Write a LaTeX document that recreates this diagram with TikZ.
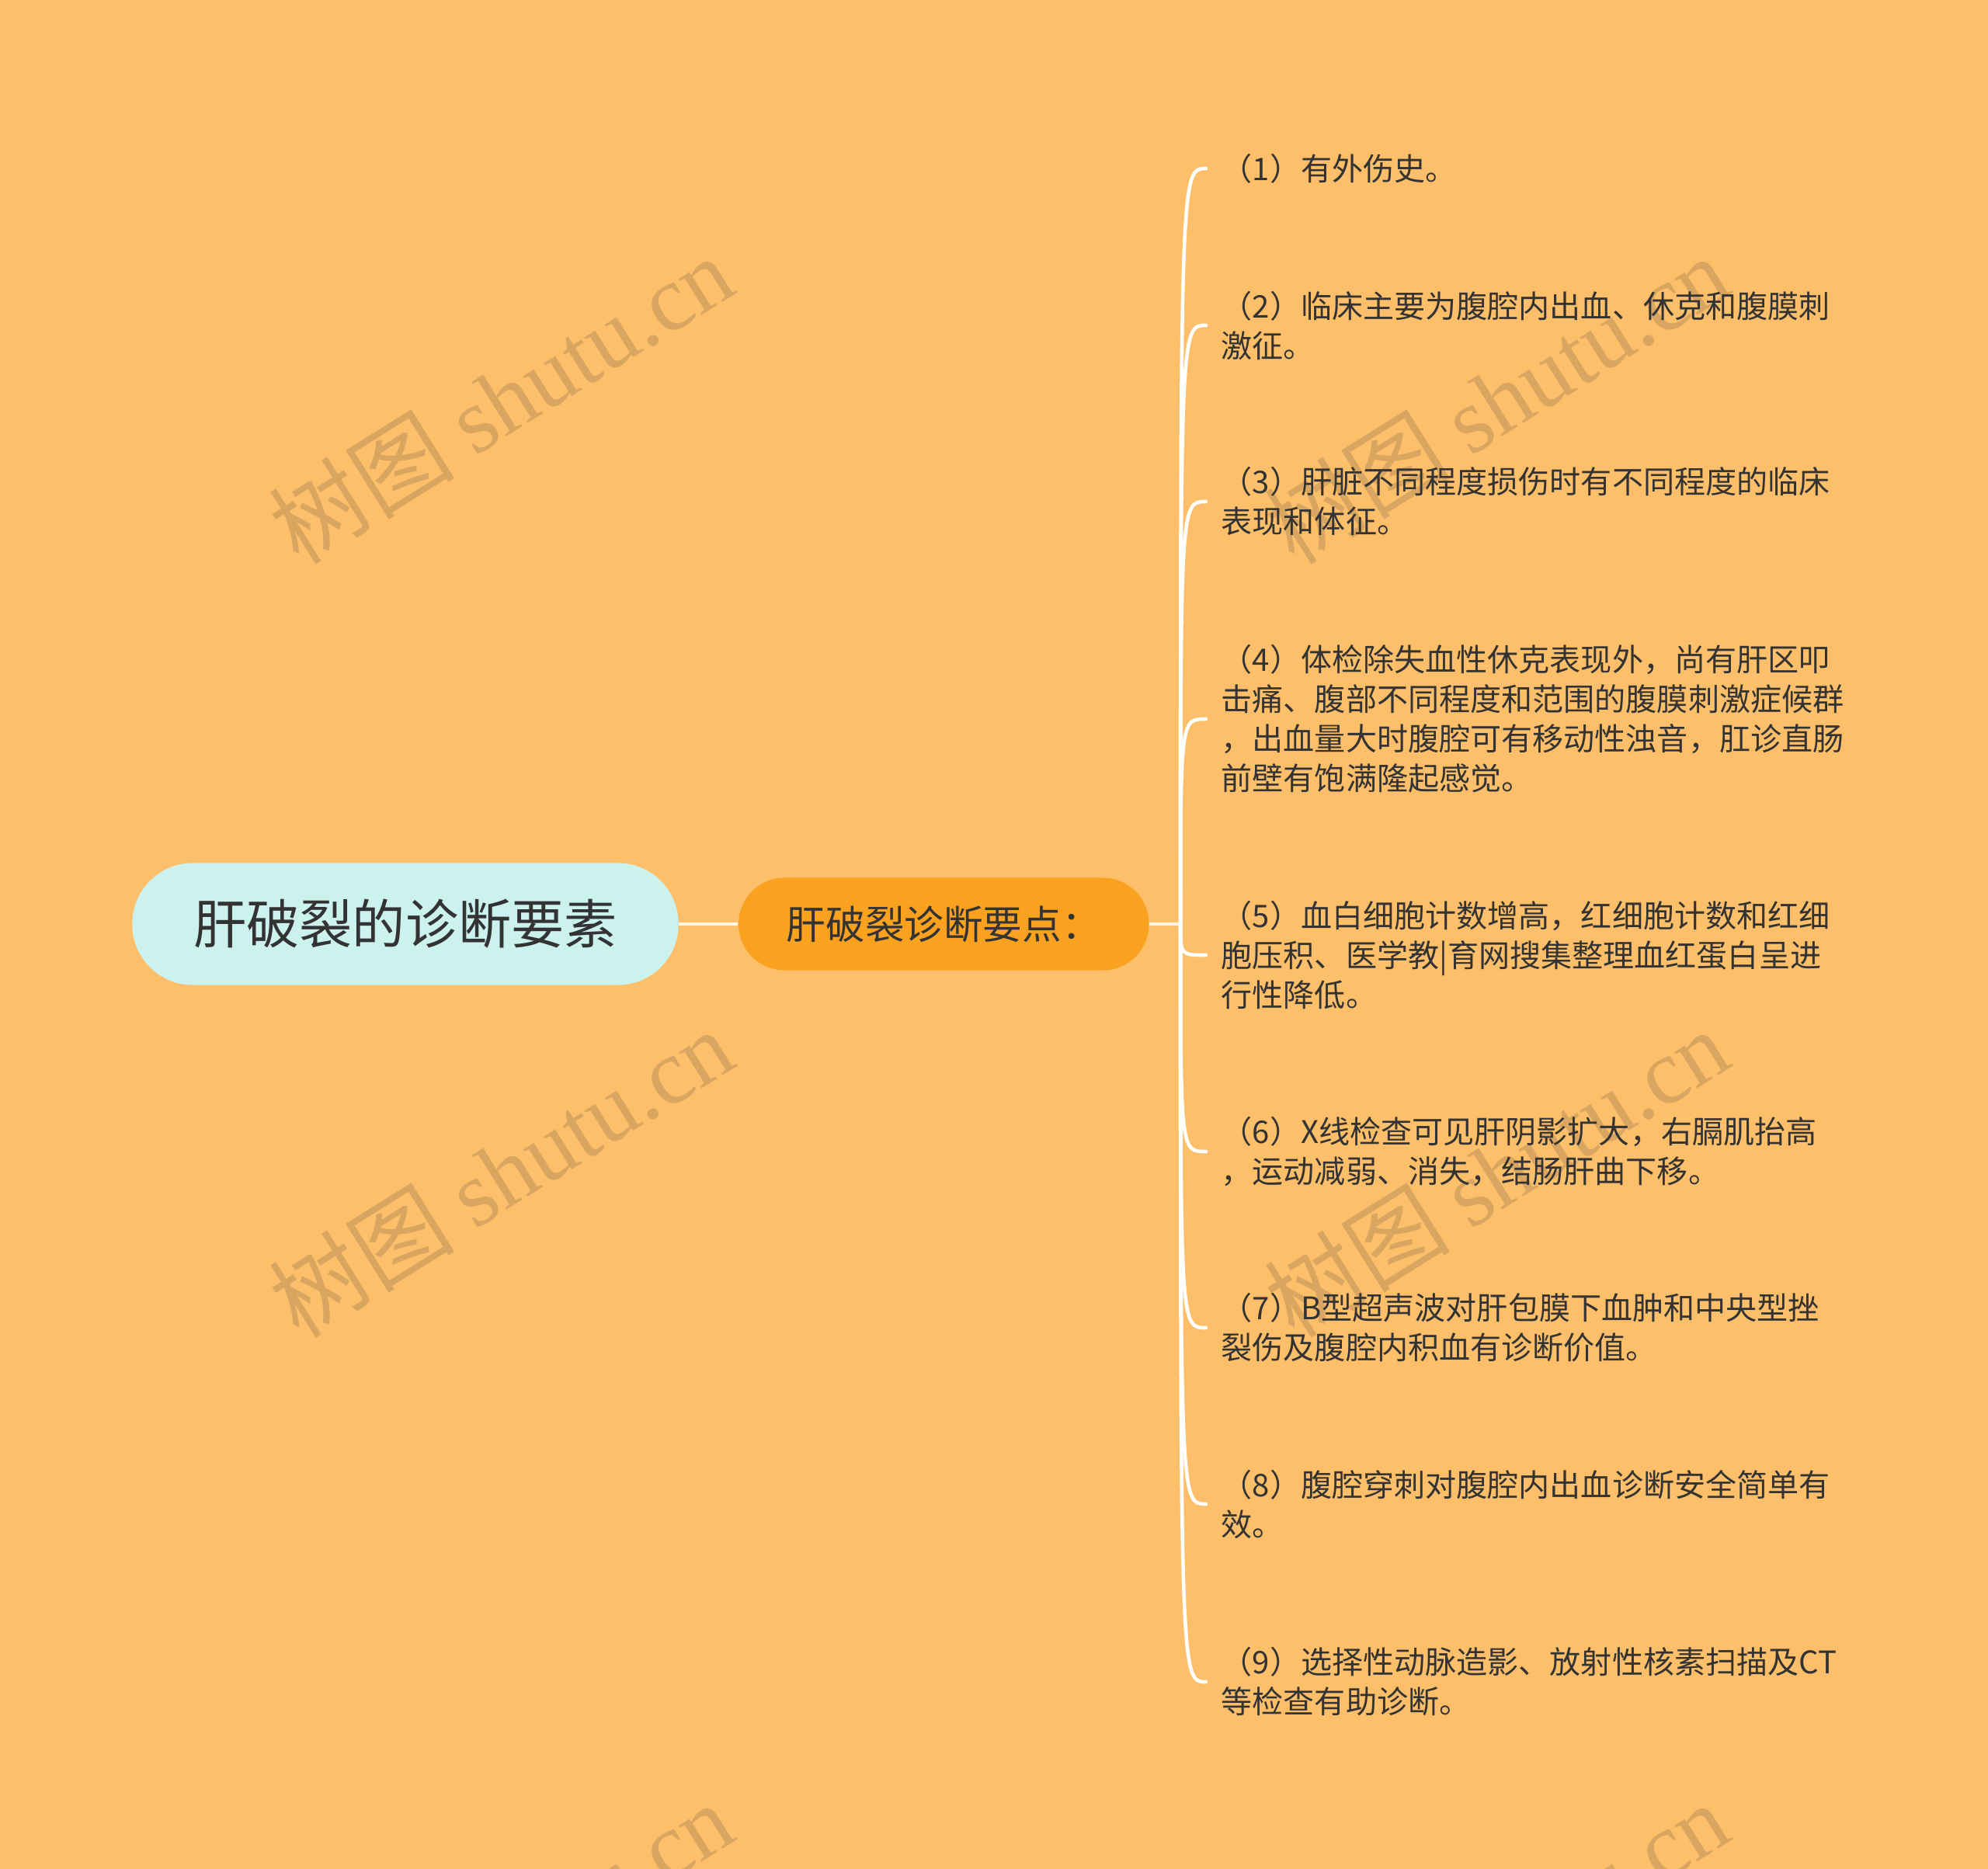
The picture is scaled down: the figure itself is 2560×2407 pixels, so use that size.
\documentclass[tikz,border=0pt]{standalone}
\usepackage{fontspec}
\setmainfont{Noto Sans CJK SC}
\newfontfamily\wmfont{Liberation Serif}
\usetikzlibrary{positioning}

\definecolor{bgorange}{HTML}{FEBF6A}
\definecolor{rootcyan}{HTML}{CCF2EE}
\definecolor{midorange}{HTML}{FAA21F}
\definecolor{linecream}{HTML}{FFF6E8}
\definecolor{inkgray}{HTML}{333333}
\definecolor{wmtan}{HTML}{D8A661}

\begin{document}
\begin{tikzpicture}[
    x=0.01cm, y=-0.01cm,
    % 通用樣式
    rootbox/.style={rectangle, rounded corners=0.78cm, fill=rootcyan, minimum width=7.03cm, minimum height=1.57cm, text=inkgray, font=\fontsize{19.4pt}{23pt}\selectfont},
    midbox/.style={rectangle, rounded corners=0.59cm, fill=midorange, minimum width=5.28cm, minimum height=1.19cm, text=inkgray, font=\fontsize{14.4pt}{17pt}\selectfont},
    leaf/.style={anchor=west, align=left, inner xsep=0.19cm, inner ysep=0pt, text=inkgray, font=\fontsize{11.4pt}{14.5pt}\selectfont},
    link/.style={draw=linecream, line width=1.4pt},
    branch/.style={draw=white, line width=1.3pt, line cap=round},
    wm/.style={text=wmtan, rotate=32, font=\fontsize{34pt}{38pt}\selectfont}
]

    % --- 0. Background (背景) ---
    \fill[bgorange] (0,0) rectangle (2560,2407);
    \useasboundingbox (0,0) rectangle (2560,2407);

    % watermarks
    \node[wm] (wm1) at (645,514) {树图 {\wmfont shutu.cn}};
    \node[wm] (wm2) at (645,1510) {树图 {\wmfont shutu.cn}};
    \node[wm] (wm3) at (1927,514) {树图 {\wmfont shutu.cn}};
    \node[wm] (wm4) at (1927,1510) {树图 {\wmfont shutu.cn}};
    \node[wm] (wm5) at (645,2506) {树图 {\wmfont shutu.cn}};
    \node[wm] (wm6) at (1927,2506) {树图 {\wmfont shutu.cn}};

    % --- 1. Nodes (節點) ---

    % 中心主題
    \node[rootbox] (root) at (522,1190) {肝破裂的诊断要素};

    % 二級主題
    \node[midbox, right=0.76cm of root] (mid) {肝破裂诊断要点：};
    \coordinate[right=0.4cm of mid] (jn);

    % 葉節點
    \node[leaf] (l1) at (1553,217) {（1）有外伤史。};
    \node[leaf] (l2) at (1553,419) {（2）临床主要为腹腔内出血、休克和腹膜刺\\激征。};
    \node[leaf] (l3) at (1553,646) {（3）肝脏不同程度损伤时有不同程度的临床\\表现和体征。};
    \node[leaf] (l4) at (1553,926) {（4）体检除失血性休克表现外，尚有肝区叩\\击痛、腹部不同程度和范围的腹膜刺激症候群\\，出血量大时腹腔可有移动性浊音，肛诊直肠\\前壁有饱满隆起感觉。};
    \node[leaf] (l5) at (1553,1230) {（5）血白细胞计数增高，红细胞计数和红细\\胞压积、医学教|育网搜集整理血红蛋白呈进\\行性降低。};
    \node[leaf] (l6) at (1553,1483) {（6）X线检查可见肝阴影扩大，右膈肌抬高\\，运动减弱、消失，结肠肝曲下移。};
    \node[leaf] (l7) at (1553,1710) {（7）B型超声波对肝包膜下血肿和中央型挫\\裂伤及腹腔内积血有诊断价值。};
    \node[leaf] (l8) at (1553,1937) {（8）腹腔穿刺对腹腔内出血诊断安全简单有\\效。};
    \node[leaf] (l9) at (1553,2166) {（9）选择性动脉造影、放射性核素扫描及CT\\等检查有助诊断。};

    % --- 2. Paths (路徑連線) ---
    \draw[link] (root) -- (mid);
    \draw[link] (mid) -- (jn);

    \draw[branch] (jn) .. controls (jn |- l1.west) .. (l1.west);
    \draw[branch] (jn) .. controls (jn |- l2.west) .. (l2.west);
    \draw[branch] (jn) .. controls (jn |- l3.west) .. (l3.west);
    \draw[branch] (jn) .. controls (jn |- l4.west) .. (l4.west);
    \draw[branch] (jn) .. controls (jn |- l5.west) .. (l5.west);
    \draw[branch] (jn) .. controls (jn |- l6.west) .. (l6.west);
    \draw[branch] (jn) .. controls (jn |- l7.west) .. (l7.west);
    \draw[branch] (jn) .. controls (jn |- l8.west) .. (l8.west);
    \draw[branch] (jn) .. controls (jn |- l9.west) .. (l9.west);

\end{tikzpicture}
\end{document}
